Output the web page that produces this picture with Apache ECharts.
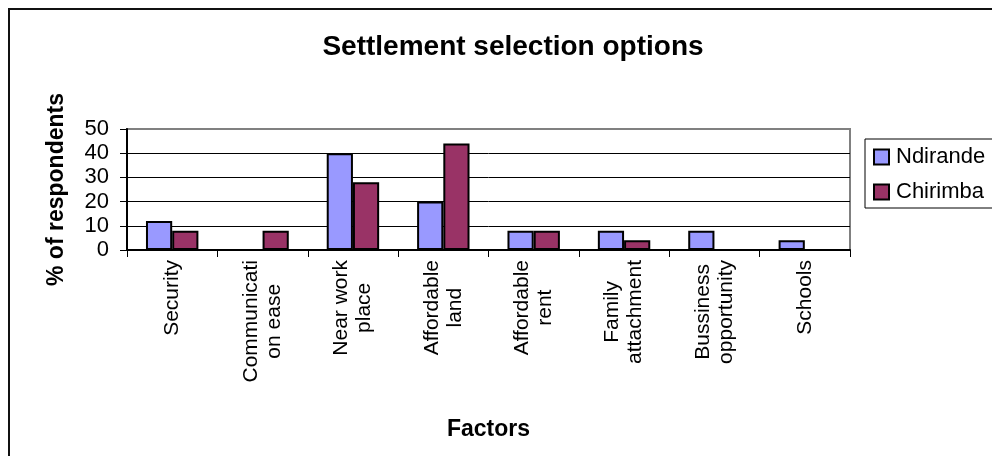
<!DOCTYPE html>
<html>
<head>
<meta charset="utf-8">
<script src="https://cdn.jsdelivr.net/npm/echarts@6/dist/echarts.min.js"></script>
<style>
  html, body { margin: 0; padding: 0; background: #fff; }
  #chart { width: 992px; height: 456px; }
</style>
</head>
<body>
<div id="chart"></div>
<script>
// Reasons for choosing a settlement, share of respondents per area
const categories = [
  'Security',
  'Communicati\non ease',
  'Near work\nplace',
  'Affordable\nland',
  'Affordable\nrent',
  'Family\nattachment',
  'Bussiness\nopportunity',
  'Schools'
];
const ndirande = [12, 0, 40, 20, 8, 8, 8, 4];
const chirimba = [8, 8, 28, 44, 8, 4, 0, 0];
const seriesNames = ['Ndirande', 'Chirimba'];
const yTicks = { min: 0, max: 50, interval: 10 };

const FONT = '"Liberation Sans", Arial, sans-serif';

const chart = echarts.init(document.getElementById('chart'), null, { renderer: 'canvas' });

const barStyle = (color) => ({ color: color, borderColor: '#000', borderWidth: 2 });

chart.setOption({
  animation: false,
  backgroundColor: '#fff',
  title: {
    text: 'Settlement selection options',
    left: 508,
    top: 28,
    textAlign: 'center',
    textStyle: { fontFamily: FONT, fontSize: 28, fontWeight: 'bold', color: '#000' }
  },
  graphic: [{
    type: 'rect',
    shape: { x: 9, y: 9, width: 1200, height: 600 },
    style: { fill: null, stroke: '#111', lineWidth: 2 },
    silent: true,
    z: 100
  }],
  legend: {
    orient: 'vertical',
    left: 865,
    top: 139,
    padding: [7, 40, 5, 8],
    borderColor: '#000',
    borderWidth: 1,
    backgroundColor: '#fff',
    icon: 'rect',
    itemWidth: 15,
    itemHeight: 15,
    itemGap: 13,
    itemStyle: { borderColor: '#000', borderWidth: 2 },
    textStyle: { fontFamily: FONT, fontSize: 22, color: '#000', lineHeight: 22, padding: [0, 0, 0, 2] },
    data: seriesNames
  },
  grid: {
    left: 127,
    right: 142,
    top: 129,
    bottom: 206,
    show: true,
    borderColor: '#808080',
    borderWidth: 2,
    backgroundColor: '#fff'
  },
  xAxis: {
    type: 'category',
    data: categories,
    name: 'Factors',
    nameLocation: 'middle',
    nameGap: 168,
    nameTextStyle: { fontFamily: FONT, fontSize: 23, fontWeight: 'bold', color: '#000' },
    axisLine: { lineStyle: { color: '#000', width: 2 } },
    axisTick: { show: true, length: 7, lineStyle: { color: '#000', width: 1 } },
    axisLabel: {
      rotate: 90,
      interval: 0,
      margin: 10,
      color: '#000',
      fontFamily: FONT,
      fontSize: 21,
      formatter: (v) => v.split('\n').map((l) => '{c|' + l + '}').join('\n'),
      rich: { c: { align: 'center', fontFamily: FONT, fontSize: 21, color: '#000', lineHeight: 23 } }
    }
  },
  yAxis: {
    type: 'value',
    min: yTicks.min,
    max: yTicks.max,
    interval: yTicks.interval,
    name: '% of respondents',
    nameLocation: 'middle',
    nameRotate: 90,
    nameGap: 59,
    nameTextStyle: { fontFamily: FONT, fontSize: 23, fontWeight: 'bold', color: '#000' },
    axisLine: { show: true, lineStyle: { color: '#000', width: 2 } },
    axisTick: { show: true, length: 7, lineStyle: { color: '#000', width: 1 } },
    axisLabel: { margin: 18, color: '#000', fontFamily: FONT, fontSize: 22 },
    splitLine: { show: true, showMaxLine: false, lineStyle: { color: '#000', width: 1 } }
  },
  series: [
    {
      name: seriesNames[0],
      type: 'bar',
      data: ndirande,
      barGap: '0%',
      barCategoryGap: '42%',
      itemStyle: barStyle('#9999FF')
    },
    {
      name: seriesNames[1],
      type: 'bar',
      data: chirimba,
      barGap: '0%',
      barCategoryGap: '42%',
      itemStyle: barStyle('#993366')
    }
  ]
});
</script>
</body>
</html>
